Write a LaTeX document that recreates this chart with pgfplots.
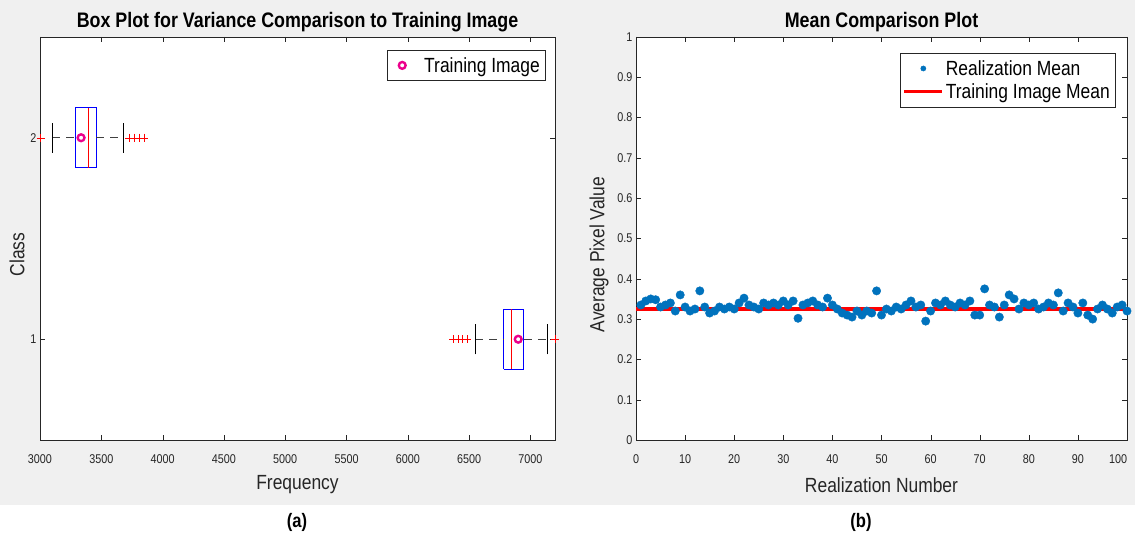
\documentclass[border=0pt]{standalone}
\usepackage{pgfplots}
\pgfplotsset{compat=1.18}
\usepackage{pgfplotstable}
\usepackage{fontspec}
\setmainfont{Liberation Sans}[FakeStretch=0.85]
\definecolor{mblue}{RGB}{0,114,189}
\definecolor{bgray}{RGB}{240,240,240}
\pgfplotsset{
  ringlegend/.style={legend image code/.code={\path[draw=none,fill=none] (-12pt,0pt) -- (20pt,0pt); \draw[##1] plot coordinates {(0pt,0pt)};}},
  dotlegend/.style={legend image code/.code={\path[draw=none,fill=none] (0pt,0pt) -- (38pt,0pt); \draw[##1, mark size=2.6pt] plot coordinates {(19pt,0pt)};}},
  linelegend/.style={legend image code/.code={\draw[##1, line width=3pt] (0pt,0pt) -- (38pt,0pt);}},
}
\pgfplotstableread{
x y
1 0.335
2 0.345
3 0.350
4 0.348
5 0.330
6 0.335
7 0.340
8 0.320
9 0.360
10 0.330
11 0.320
12 0.325
13 0.370
14 0.330
15 0.315
16 0.320
17 0.330
18 0.325
19 0.330
20 0.325
21 0.340
22 0.352
23 0.335
24 0.330
25 0.325
26 0.340
27 0.335
28 0.340
29 0.335
30 0.345
31 0.335
32 0.345
33 0.302
34 0.335
35 0.340
36 0.345
37 0.335
38 0.330
39 0.352
40 0.335
41 0.325
42 0.315
43 0.310
44 0.305
45 0.320
46 0.310
47 0.320
48 0.315
49 0.370
50 0.310
51 0.325
52 0.320
53 0.330
54 0.325
55 0.335
56 0.345
57 0.330
58 0.335
59 0.295
60 0.320
61 0.340
62 0.335
63 0.345
64 0.335
65 0.330
66 0.340
67 0.335
68 0.345
69 0.310
70 0.310
71 0.375
72 0.335
73 0.330
74 0.305
75 0.335
76 0.360
77 0.350
78 0.325
79 0.340
80 0.335
81 0.340
82 0.325
83 0.330
84 0.340
85 0.335
86 0.365
87 0.320
88 0.340
89 0.330
90 0.315
91 0.340
92 0.310
93 0.300
94 0.325
95 0.335
96 0.325
97 0.315
98 0.330
99 0.335
100 0.320
}\meandata
\begin{document}
\begin{tikzpicture}
\fill[bgray] (0pt,0pt) rectangle (1135pt,537pt);
\fill[white] (0pt,0pt) rectangle (1135pt,32pt);
\useasboundingbox (0pt,0pt) rectangle (1135pt,537pt);
\pgfplotsset{
  mystyle/.style={
    scale only axis, anchor=south west,
    axis background/.style={fill=white},
    axis line style={black!85},
    tick style={black!85},
    tick align=inside,
    major tick length=5pt,
    /pgf/number format/assume math mode=true,
    /pgf/number format/1000 sep={},
    scaled ticks=false,
    ticklabel style={font=\fontsize{12.7}{15}\selectfont, text=black!85},
    xticklabel style={yshift=-11pt},
    every axis label/.append style={font=\fontsize{20.5}{24}\selectfont, text=black!85},
    title style={font=\bfseries\fontsize{21}{24}\selectfont, at={(0.5,1)}, anchor=base, yshift=3pt},
    xlabel style={at={(0.5,0)}, anchor=center, yshift=-45pt},
    legend style={draw=black!85, fill=white, font=\fontsize{20.5}{24}\selectfont, inner xsep=3pt, inner ysep=5pt, row sep=3pt},
    legend cell align=left,
  }
}
% ---------------- left: box plot
\begin{axis}[mystyle, at={(40pt,97pt)}, width=515pt, height=403pt,
  xmin=3000, xmax=7200, ymin=0.5, ymax=2.5,
  xtick={3000,3500,...,7000}, ytick={1,2},
  clip=false,
  title={Box Plot for Variance Comparison to Training Image},
  xlabel={Frequency}, ylabel={Class},
  ylabel style={at={(0,0.46)}, anchor=center, yshift=23pt},
  legend style={at={(0.9806,0.9677)}, anchor=north east},
]
% class 2
\addplot[draw=blue, mark=none, line width=1pt, forget plot] coordinates {(3286,1.85) (3457,1.85) (3457,2.15) (3286,2.15) (3286,1.85)};
\addplot[draw=red, mark=none, line width=1pt, forget plot] coordinates {(3395,1.85) (3395,2.15)};
\addplot[black!75, mark=none, line width=0.9pt, dash pattern=on 8pt off 6pt, forget plot] coordinates {(3100,2) (3286,2)};
\addplot[black!75, mark=none, line width=0.9pt, dash pattern=on 8pt off 6pt, forget plot] coordinates {(3457,2) (3684,2)};
\addplot[black, mark=none, line width=0.9pt, forget plot] coordinates {(3100,1.925) (3100,2.075)};
\addplot[black, mark=none, line width=0.9pt, forget plot] coordinates {(3684,1.925) (3684,2.075)};
\addplot[only marks, mark=+, red, mark size=4pt, forget plot] coordinates {(3005,2) (3727,2) (3765,2) (3806,2) (3847,2)};
% class 1
\addplot[draw=blue, mark=none, line width=1pt, forget plot] coordinates {(6780,0.85) (6946,0.85) (6946,1.15) (6780,1.15) (6780,0.85)};
\addplot[draw=red, mark=none, line width=1pt, forget plot] coordinates {(6842,0.85) (6842,1.15)};
\addplot[black!75, mark=none, line width=0.9pt, dash pattern=on 8pt off 6pt, forget plot] coordinates {(6551,1) (6780,1)};
\addplot[black!75, mark=none, line width=0.9pt, dash pattern=on 8pt off 6pt, forget plot] coordinates {(6946,1) (7137,1)};
\addplot[black, mark=none, line width=0.9pt, forget plot] coordinates {(6551,0.925) (6551,1.075)};
\addplot[black, mark=none, line width=0.9pt, forget plot] coordinates {(7137,0.925) (7137,1.075)};
\addplot[only marks, mark=+, red, mark size=4pt, forget plot] coordinates {(6371,1) (6409,1) (6447,1) (6486,1) (7200,1)};
% training image markers
\addplot[only marks, mark=o, magenta, mark size=3.4pt, line width=2.4pt, ringlegend]
  coordinates {(3335,2) (6900,1)};
\addlegendentry{Training Image}
\end{axis}
% ---------------- right: mean comparison
\begin{axis}[mystyle, at={(636pt,97pt)}, width=491pt, height=403pt,
  xmin=0, xmax=100, ymin=0, ymax=1,
  xtick={0,10,...,100}, ytick={0,0.1,...,1},
  xticklabels={0,10,20,30,40,50,60,70,80,90,\makebox[0pt][r]{100}},
  yticklabels={0,0.1,0.2,0.3,0.4,0.5,0.6,0.7,0.8,0.9,1},
  title={Mean Comparison Plot},
  xlabel={Realization Number}, ylabel={Average Pixel Value},
  ylabel style={at={(0,0.46)}, anchor=center, yshift=37pt},
  legend style={at={(0.9756,0.96)}, anchor=north east},
]
\addplot[only marks, mark=*, mblue, mark size=4.2pt, dotlegend]
  table[x=x, y=y] {\meandata};
\addlegendentry{Realization Mean}
\addplot[red, mark=none, line width=4pt, linelegend]
  coordinates {(0,0.325) (100,0.325)};
\addlegendentry{Training Image Mean}
\end{axis}
\node[font=\bfseries\fontsize{19.5}{22}\selectfont] at (297pt,15pt) {(a)};
\node[font=\bfseries\fontsize{19.5}{22}\selectfont] at (861pt,15pt) {(b)};
\end{tikzpicture}
\end{document}
